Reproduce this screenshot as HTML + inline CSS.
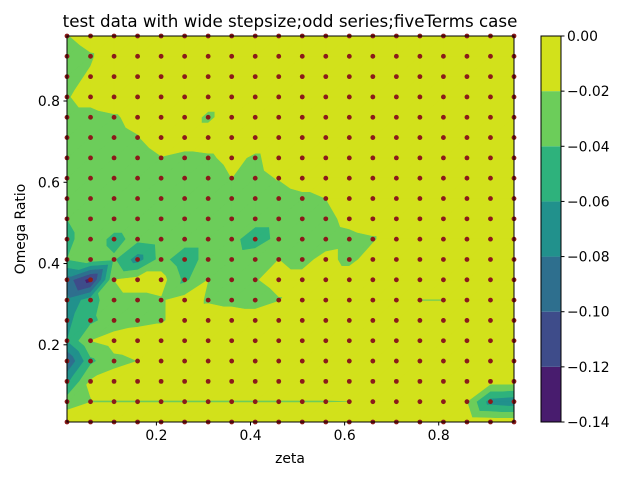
<!DOCTYPE html>
<html><head><meta charset="utf-8"><style>
html,body{margin:0;padding:0;background:#fff;}
svg{display:block;font-family:"DejaVu Sans","Liberation Sans",sans-serif;}
</style></head><body>
<svg id="chart" width="640" height="480" viewBox="0 0 640 480">
<rect width="640" height="480" fill="#fff"/>
<text x="290" y="27" text-anchor="middle" font-size="16.7">test data with wide stepsize;odd series;fiveTerms case</text>
<g id="plot"></g>
<g id="axes"></g>
<text x="290" y="463" text-anchor="middle" font-size="13.9">zeta</text>
<text transform="translate(25,229) rotate(-90)" text-anchor="middle" font-size="13.9">Omega Ratio</text>
<g id="cbar"></g>
</svg>
<script>
const xValues = [0.01,0.06,0.11,0.16,0.21,0.26,0.31,0.36,0.41,0.46,0.51,0.56,0.61,0.66,0.71,0.76,0.81,0.86,0.91,0.96];
const yValues = [0.01,0.06,0.11,0.16,0.21,0.26,0.31,0.36,0.41,0.46,0.51,0.56,0.61,0.66,0.71,0.76,0.81,0.86,0.91,0.96];
const levels = [-0.14,-0.12,-0.10,-0.08,-0.06,-0.04,-0.02,0.0];
const levelLabels = ["\u22120.14","\u22120.12","\u22120.10","\u22120.08","\u22120.06","\u22120.04","\u22120.02","0.00"];
const bandColors = ["#481c6e","#3e4c8a","#2e6f8e","#21918c","#2eb27c","#6ccd5a","#d2e11b"];
const xTicks = [0.2,0.4,0.6,0.8];
const xTickLabels = ["0.2","0.4","0.6","0.8"];
const yTicks = [0.2,0.4,0.6,0.8];
const yTickLabels = ["0.2","0.4","0.6","0.8"];
const zValues = [
[-0.006,-0.006,-0.006,-0.006,-0.006,-0.006,-0.006,-0.006,-0.006,-0.006,-0.006,-0.006,-0.006,-0.006,-0.006,-0.006,-0.006,-0.006,-0.008,-0.008],
[-0.03,-0.0206,-0.0206,-0.0206,-0.0206,-0.0206,-0.0206,-0.0206,-0.0206,-0.0206,-0.0206,-0.0206,-0.0203,-0.012,-0.012,-0.012,-0.012,-0.02,-0.07,-0.075],
[-0.065,-0.018,-0.012,-0.012,-0.012,-0.012,-0.012,-0.012,-0.012,-0.012,-0.012,-0.012,-0.012,-0.012,-0.012,-0.012,-0.012,-0.012,-0.012,-0.012],
[-0.1,-0.045,-0.025,-0.02,-0.01,-0.01,-0.01,-0.01,-0.01,-0.01,-0.01,-0.01,-0.01,-0.01,-0.01,-0.01,-0.01,-0.01,-0.01,-0.01],
[-0.06,-0.02,-0.012,-0.01,-0.01,-0.01,-0.01,-0.01,-0.01,-0.01,-0.01,-0.01,-0.01,-0.01,-0.01,-0.01,-0.01,-0.01,-0.01,-0.01],
[-0.065,-0.045,-0.03,-0.025,-0.022,-0.012,-0.01,-0.01,-0.01,-0.01,-0.01,-0.01,-0.01,-0.01,-0.01,-0.01,-0.01,-0.01,-0.01,-0.01],
[-0.075,-0.05,-0.025,-0.025,-0.022,-0.012,-0.022,-0.025,-0.028,-0.021,-0.01,-0.01,-0.01,-0.01,-0.01,-0.0205,-0.0205,-0.01,-0.01,-0.01],
[-0.09,-0.13,-0.02,-0.012,-0.012,-0.045,-0.02,-0.025,-0.021,-0.015,-0.015,-0.01,-0.01,-0.01,-0.01,-0.01,-0.01,-0.01,-0.01,-0.01],
[-0.04,-0.03,-0.038,-0.07,-0.032,-0.055,-0.03,-0.028,-0.022,-0.02,-0.025,-0.015,-0.025,-0.012,-0.01,-0.01,-0.01,-0.01,-0.01,-0.01],
[-0.045,-0.03,-0.045,-0.035,-0.03,-0.03,-0.03,-0.032,-0.055,-0.032,-0.03,-0.028,-0.025,-0.022,-0.01,-0.01,-0.01,-0.01,-0.01,-0.01],
[-0.04,-0.03,-0.03,-0.03,-0.03,-0.03,-0.03,-0.03,-0.03,-0.03,-0.03,-0.025,-0.015,-0.01,-0.01,-0.01,-0.01,-0.01,-0.01,-0.01],
[-0.03,-0.03,-0.03,-0.03,-0.03,-0.03,-0.03,-0.03,-0.03,-0.03,-0.025,-0.02,-0.01,-0.01,-0.01,-0.01,-0.01,-0.01,-0.01,-0.01],
[-0.03,-0.03,-0.03,-0.03,-0.03,-0.03,-0.03,-0.02,-0.025,-0.019,-0.01,-0.01,-0.01,-0.01,-0.01,-0.01,-0.01,-0.01,-0.01,-0.01],
[-0.03,-0.03,-0.03,-0.03,-0.021,-0.025,-0.023,-0.015,-0.023,-0.012,-0.01,-0.01,-0.01,-0.01,-0.01,-0.01,-0.01,-0.01,-0.01,-0.01],
[-0.03,-0.03,-0.025,-0.021,-0.01,-0.01,-0.01,-0.01,-0.01,-0.01,-0.01,-0.01,-0.01,-0.01,-0.01,-0.01,-0.01,-0.01,-0.01,-0.01],
[-0.025,-0.025,-0.022,-0.015,-0.01,-0.01,-0.024,-0.01,-0.01,-0.01,-0.01,-0.01,-0.01,-0.01,-0.01,-0.01,-0.01,-0.01,-0.01,-0.01],
[-0.021,-0.015,-0.01,-0.01,-0.01,-0.01,-0.01,-0.01,-0.01,-0.01,-0.01,-0.01,-0.01,-0.01,-0.01,-0.01,-0.01,-0.01,-0.01,-0.01],
[-0.025,-0.018,-0.01,-0.01,-0.01,-0.01,-0.01,-0.01,-0.01,-0.01,-0.01,-0.01,-0.01,-0.01,-0.01,-0.01,-0.01,-0.01,-0.01,-0.01],
[-0.03,-0.022,-0.01,-0.01,-0.01,-0.01,-0.01,-0.01,-0.01,-0.01,-0.01,-0.01,-0.01,-0.01,-0.01,-0.01,-0.01,-0.01,-0.01,-0.01],
[-0.021,-0.012,-0.01,-0.01,-0.01,-0.01,-0.01,-0.01,-0.01,-0.01,-0.01,-0.01,-0.01,-0.01,-0.01,-0.01,-0.01,-0.01,-0.01,-0.01]
];
const NS = "http://www.w3.org/2000/svg";
const L = 67, R = 514, T = 36, B = 422;
const X0 = 0.01, X1 = 0.96, Y0 = 0.01, Y1 = 0.96;
function sx(x){ return L + (x - X0) / (X1 - X0) * (R - L); }
function sy(y){ return B - (y - Y0) / (Y1 - Y0) * (B - T); }
function mk(tag, parent){ const e = document.createElementNS(NS, tag); parent.appendChild(e); return e; }

function clip(poly, c, keepAbove){
  const out = [];
  for (let k = 0; k < poly.length; k++){
    const a = poly[k], b = poly[(k+1) % poly.length];
    const ina = keepAbove ? a[2] >= c : a[2] <= c;
    const inb = keepAbove ? b[2] >= c : b[2] <= c;
    if (ina) out.push(a);
    if (ina !== inb){
      const t = (c - a[2]) / (b[2] - a[2]);
      out.push([a[0] + t*(b[0]-a[0]), a[1] + t*(b[1]-a[1]), c]);
    }
  }
  return out;
}

const plot = document.getElementById('plot');
const bandPaths = bandColors.map(() => "");
for (let j = 0; j < yValues.length - 1; j++){
  for (let i = 0; i < xValues.length - 1; i++){
    const p00 = [sx(xValues[i]), sy(yValues[j]), zValues[j][i]];
    const p10 = [sx(xValues[i+1]), sy(yValues[j]), zValues[j][i+1]];
    const p01 = [sx(xValues[i]), sy(yValues[j+1]), zValues[j+1][i]];
    const p11 = [sx(xValues[i+1]), sy(yValues[j+1]), zValues[j+1][i+1]];
    const tris = [[p00,p10,p11],[p00,p11,p01]];
    for (const tri of tris){
      for (let k = 0; k < bandColors.length; k++){
        let poly = clip(tri, levels[k], true);
        if (poly.length < 3) continue;
        poly = clip(poly, levels[k+1], false);
        if (poly.length < 3) continue;
        bandPaths[k] += "M" + poly.map(p => p[0].toFixed(2) + "," + p[1].toFixed(2)).join("L") + "Z";
      }
    }
  }
}
bandColors.forEach((col, k) => {
  if (!bandPaths[k]) return;
  const p = mk('path', plot);
  p.setAttribute('d', bandPaths[k]);
  p.setAttribute('fill', col);
  p.setAttribute('stroke', col);
  p.setAttribute('stroke-width', '0.6');
  p.setAttribute('stroke-linejoin', 'round');
  
  
});

for (let j = 0; j < yValues.length; j++){
  for (let i = 0; i < xValues.length; i++){
    const c = mk('circle', plot);
    c.setAttribute('cx', sx(xValues[i]));
    c.setAttribute('cy', sy(yValues[j]));
    c.setAttribute('r', '2.4');
    c.setAttribute('fill', '#8b1a1a');
    
    
  }
}

const axes = document.getElementById('axes');
const frame = mk('rect', axes);
frame.setAttribute('x', L); frame.setAttribute('y', T);
frame.setAttribute('width', R - L); frame.setAttribute('height', B - T);
frame.setAttribute('fill', 'none'); frame.setAttribute('stroke', '#000'); frame.setAttribute('stroke-width', '1');



xTicks.forEach((v, k) => {
  const x = sx(v);
  const t = mk('line', axes);
  t.setAttribute('x1', x); t.setAttribute('x2', x); t.setAttribute('y1', B); t.setAttribute('y2', B + 3.5);
  t.setAttribute('stroke', '#000');
  
  
  const lb = mk('text', axes);
  lb.setAttribute('x', x); lb.setAttribute('y', B + 18);
  lb.setAttribute('text-anchor', 'middle'); lb.setAttribute('font-size', '13.9');
  lb.textContent = xTickLabels[k];
  
  
});
yTicks.forEach((v, k) => {
  const y = sy(v);
  const t = mk('line', axes);
  t.setAttribute('x1', L - 3.5); t.setAttribute('x2', L); t.setAttribute('y1', y); t.setAttribute('y2', y);
  t.setAttribute('stroke', '#000');
  
  
  const lb = mk('text', axes);
  lb.setAttribute('x', L - 7); lb.setAttribute('y', y + 5);
  lb.setAttribute('text-anchor', 'end'); lb.setAttribute('font-size', '13.9');
  lb.textContent = yTickLabels[k];
  
  
});

const cbar = document.getElementById('cbar');
const CL = 541, CR = 561;
function cy(v){ return B - (v - levels[0]) / (levels[levels.length-1] - levels[0]) * (B - T); }
bandColors.forEach((col, k) => {
  const r = mk('rect', cbar);
  r.setAttribute('x', CL); r.setAttribute('width', CR - CL);
  r.setAttribute('y', cy(levels[k+1])); r.setAttribute('height', cy(levels[k]) - cy(levels[k+1]));
  r.setAttribute('fill', col);
  
  
});
const cf = mk('rect', cbar);
cf.setAttribute('x', CL); cf.setAttribute('y', T); cf.setAttribute('width', CR - CL); cf.setAttribute('height', B - T);
cf.setAttribute('fill', 'none'); cf.setAttribute('stroke', '#000');


levels.forEach((v, k) => {
  const y = cy(v);
  const t = mk('line', cbar);
  t.setAttribute('x1', CR); t.setAttribute('x2', CR + 3.5); t.setAttribute('y1', y); t.setAttribute('y2', y);
  t.setAttribute('stroke', '#000');
  
  
  const lb = mk('text', cbar);
  lb.setAttribute('x', CR + 6); lb.setAttribute('y', y + 5);
  lb.setAttribute('font-size', '13.9');
  lb.textContent = levelLabels[k];
  
  
});
</script>
</body></html>
